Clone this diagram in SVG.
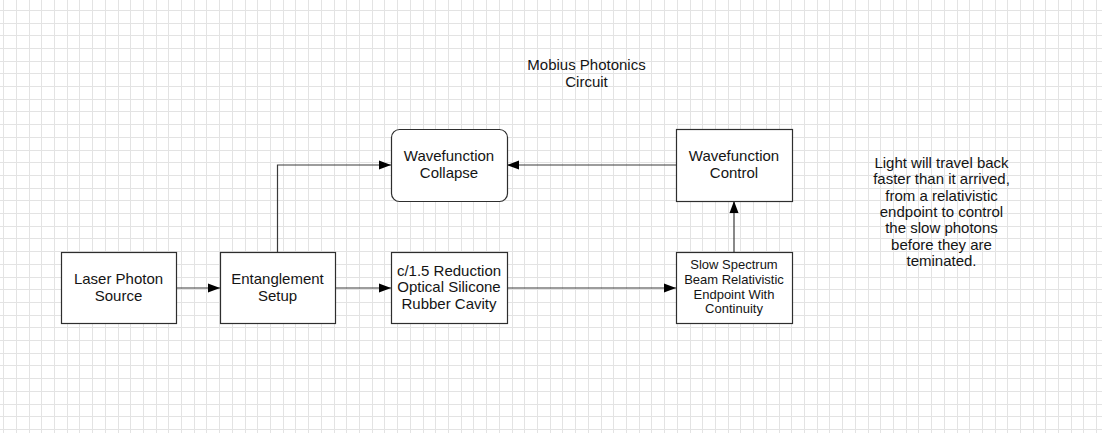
<svg xmlns="http://www.w3.org/2000/svg" width="1102" height="433" viewBox="0 0 1102 433">
<defs>
<style>
.grid{stroke:#e3e3e3;stroke-width:1;fill:none}
.box{fill:#fff;stroke:#2e2e2e;stroke-width:1.2}
.t{font-family:"Liberation Sans",Arial,sans-serif;font-size:15px;fill:#141414;text-anchor:middle}
.s{font-size:13px}
.c{fill:none;stroke:#3a3a3a;stroke-width:1.2}
</style>
<marker id="ah" markerUnits="userSpaceOnUse" markerWidth="12" markerHeight="10" refX="12" refY="4.5" orient="auto" viewBox="0 0 12 9">
<path d="M0,0 L12,4.5 L0,9 z" fill="#000"/>
</marker>
</defs>
<rect width="1102" height="433" fill="#fff"/>
<path class="grid" d="M3.5 0V433M16.5 0V433M29.5 0V433M41.5 0V433M54.5 0V433M67.5 0V433M79.5 0V433M92.5 0V433M105.5 0V433M118.5 0V433M130.5 0V433M143.5 0V433M156.5 0V433M168.5 0V433M181.5 0V433M194.5 0V433M206.5 0V433M219.5 0V433M232.5 0V433M245.5 0V433M257.5 0V433M270.5 0V433M283.5 0V433M295.5 0V433M308.5 0V433M321.5 0V433M334.5 0V433M346.5 0V433M359.5 0V433M372.5 0V433M384.5 0V433M397.5 0V433M410.5 0V433M423.5 0V433M435.5 0V433M448.5 0V433M461.5 0V433M473.5 0V433M486.5 0V433M499.5 0V433M512.5 0V433M524.5 0V433M537.5 0V433M550.5 0V433M562.5 0V433M575.5 0V433M588.5 0V433M601.5 0V433M613.5 0V433M626.5 0V433M639.5 0V433M651.5 0V433M664.5 0V433M677.5 0V433M690.5 0V433M702.5 0V433M715.5 0V433M728.5 0V433M740.5 0V433M753.5 0V433M766.5 0V433M779.5 0V433M791.5 0V433M804.5 0V433M817.5 0V433M829.5 0V433M842.5 0V433M855.5 0V433M868.5 0V433M880.5 0V433M893.5 0V433M906.5 0V433M918.5 0V433M931.5 0V433M944.5 0V433M957.5 0V433M969.5 0V433M982.5 0V433M995.5 0V433M1007.5 0V433M1020.5 0V433M1033.5 0V433M1045.5 0V433M1058.5 0V433M1071.5 0V433M1083.5 0V433M1096.5 0V433M0 10.5H1102M0 23.5H1102M0 35.5H1102M0 48.5H1102M0 61.5H1102M0 73.5H1102M0 86.5H1102M0 99.5H1102M0 111.5H1102M0 124.5H1102M0 137.5H1102M0 150.5H1102M0 162.5H1102M0 175.5H1102M0 188.5H1102M0 200.5H1102M0 213.5H1102M0 226.5H1102M0 238.5H1102M0 251.5H1102M0 264.5H1102M0 277.5H1102M0 289.5H1102M0 302.5H1102M0 315.5H1102M0 327.5H1102M0 340.5H1102M0 353.5H1102M0 365.5H1102M0 378.5H1102M0 391.5H1102M0 404.5H1102M0 416.5H1102M0 429.5H1102"/>
<g id="title">
<text class="t" x="586.5" y="70">Mobius Photonics</text>
<text class="t" x="586.5" y="86.5">Circuit</text>
</g>
<g id="connectors">
<path class="c" d="M176 288H220" marker-end="url(#ah)"/>
<path class="c" d="M335 288H391" marker-end="url(#ah)"/>
<path class="c" d="M507 288H676" marker-end="url(#ah)"/>
<path class="c" d="M734 252V201" marker-end="url(#ah)"/>
<path class="c" d="M676 165H507" marker-end="url(#ah)"/>
<path class="c" d="M277.5 252V165H391" marker-end="url(#ah)"/>
</g>
<g id="laser">
<rect class="box" x="61.5" y="252.5" width="115" height="71"/>
<text class="t" x="118.5" y="284">Laser Photon</text>
<text class="t" x="118.5" y="301">Source</text>
</g>
<g id="entangle">
<rect class="box" x="220.5" y="252.5" width="115" height="71"/>
<text class="t" x="277.5" y="284">Entanglement</text>
<text class="t" x="277.5" y="301">Setup</text>
</g>
<g id="cavity">
<rect class="box" x="391.5" y="252.5" width="116" height="71"/>
<text class="t" x="449" y="275.5">c/1.5 Reduction</text>
<text class="t" x="449" y="292">Optical Silicone</text>
<text class="t" x="449" y="308.5">Rubber Cavity</text>
</g>
<g id="collapse">
<rect class="box" x="391.5" y="129.5" width="116" height="72" rx="8" ry="8"/>
<text class="t" x="449" y="161">Wavefunction</text>
<text class="t" x="449" y="178">Collapse</text>
</g>
<g id="control">
<rect class="box" x="676.5" y="129.5" width="116" height="72"/>
<text class="t" x="734" y="161">Wavefunction</text>
<text class="t" x="734" y="178">Control</text>
</g>
<g id="endpoint">
<rect class="box" x="676.5" y="252.5" width="116" height="71"/>
<text class="t s" x="734" y="269">Slow Spectrum</text>
<text class="t s" x="734" y="284">Beam Relativistic</text>
<text class="t s" x="734" y="298.5">Endpoint With</text>
<text class="t s" x="734" y="313">Continuity</text>
</g>
<g id="note">
<text class="t" x="941.5" y="168">Light will travel back</text>
<text class="t" x="941.5" y="184.3">faster than it arrived,</text>
<text class="t" x="941.5" y="200.6">from a relativistic</text>
<text class="t" x="941.5" y="216.9">endpoint to control</text>
<text class="t" x="941.5" y="233.2">the slow photons</text>
<text class="t" x="941.5" y="249.5">before they are</text>
<text class="t" x="941.5" y="265.8">teminated.</text>
</g>
</svg>
